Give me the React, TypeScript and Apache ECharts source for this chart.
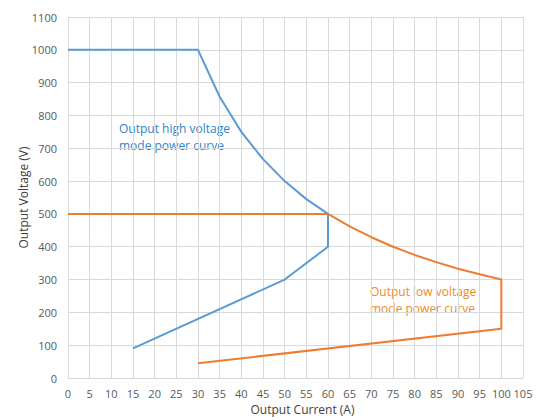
import React, { useEffect, useRef } from "react";
import * as echarts from "echarts";

const highCurrent = [0, 30, 35, 40, 45, 50, 55, 60, 60, 50, 15];
const highVoltage = [1000, 1000, 857, 750, 667, 600, 545, 500, 400, 300, 90];
const lowCurrent = [0, 60, 65, 70, 75, 80, 85, 90, 95, 100, 100, 30];
const lowVoltage = [500, 500, 462, 429, 400, 375, 353, 333, 316, 300, 150, 45];

const highLabel = ["Output high voltage", "mode power curve"];
const lowLabel = ["Output low voltage", "mode power curve"];

const FONT = "'Open Sans', 'Noto Sans', sans-serif";

export default function App() {
  const ref = useRef<HTMLDivElement>(null);
  useEffect(() => {
    if (!ref.current) return;
    const chart = echarts.init(ref.current, undefined, { renderer: "svg" });
    const pair = (xs: number[], ys: number[]) => xs.map((x, i) => [x, ys[i]]);
    chart.setOption({
      animation: false,
      backgroundColor: "#ffffff",
      grid: { left: 68, right: 16, top: 17, bottom: 42 },
      xAxis: {
        type: "value",
        min: 0,
        max: 105,
        interval: 5,
        name: "Output Current (A)",
        nameLocation: "middle",
        nameGap: 25,
        nameMoveOverlap: false,
        nameTextStyle: { color: "#404040", fontSize: 12, fontFamily: FONT, padding: [0, 0, 0, 14] },
        axisLine: { show: true, lineStyle: { color: "#D9D9D9" } },
        axisTick: { show: false },
        axisLabel: { color: "#595959", fontSize: 11, fontFamily: FONT, margin: 10 },
        splitLine: { show: true, lineStyle: { color: "#D9D9D9", width: 1 } },
      },
      yAxis: {
        type: "value",
        min: 0,
        max: 1100,
        interval: 100,
        name: "Output Voltage (V)",
        nameLocation: "middle",
        nameGap: 39,
        nameMoveOverlap: false,
        nameTextStyle: { color: "#404040", fontSize: 12, fontFamily: FONT },
        axisLine: { show: false },
        axisTick: { show: false },
        axisLabel: {
          color: "#595959",
          fontSize: 11,
          fontFamily: FONT,
          margin: 11,
          formatter: (v: number) => String(v),
        },
        splitLine: { show: true, lineStyle: { color: "#D9D9D9", width: 1 } },
      },
      series: [
        {
          type: "line",
          data: pair(highCurrent, highVoltage),
          showSymbol: false,
          lineStyle: { color: "#5B9BD5", width: 2 },
          itemStyle: { color: "#5B9BD5" },
          smooth: false,
        },
        {
          type: "line",
          data: pair(lowCurrent, lowVoltage),
          showSymbol: false,
          lineStyle: { color: "#ED7D31", width: 2 },
          itemStyle: { color: "#ED7D31" },
          smooth: false,
        },
      ],
      graphic: [
        {
          type: "text",
          left: 119,
          top: 120,
          style: {
            text: highLabel.join("\n"),
            fill: "#2E84C9",
            font: `12px ${FONT}`,
            lineHeight: 17,
          },
        },
        {
          type: "text",
          left: 370,
          top: 283,
          style: {
            text: lowLabel.join("\n"),
            fill: "#EE8B22",
            font: `12px ${FONT}`,
            lineHeight: 17,
          },
        },
      ],
    });
    return () => chart.dispose();
  }, []);
  return <div ref={ref} style={{ width: 539, height: 420, position: "absolute", left: 0, top: 0 }} />;
}
